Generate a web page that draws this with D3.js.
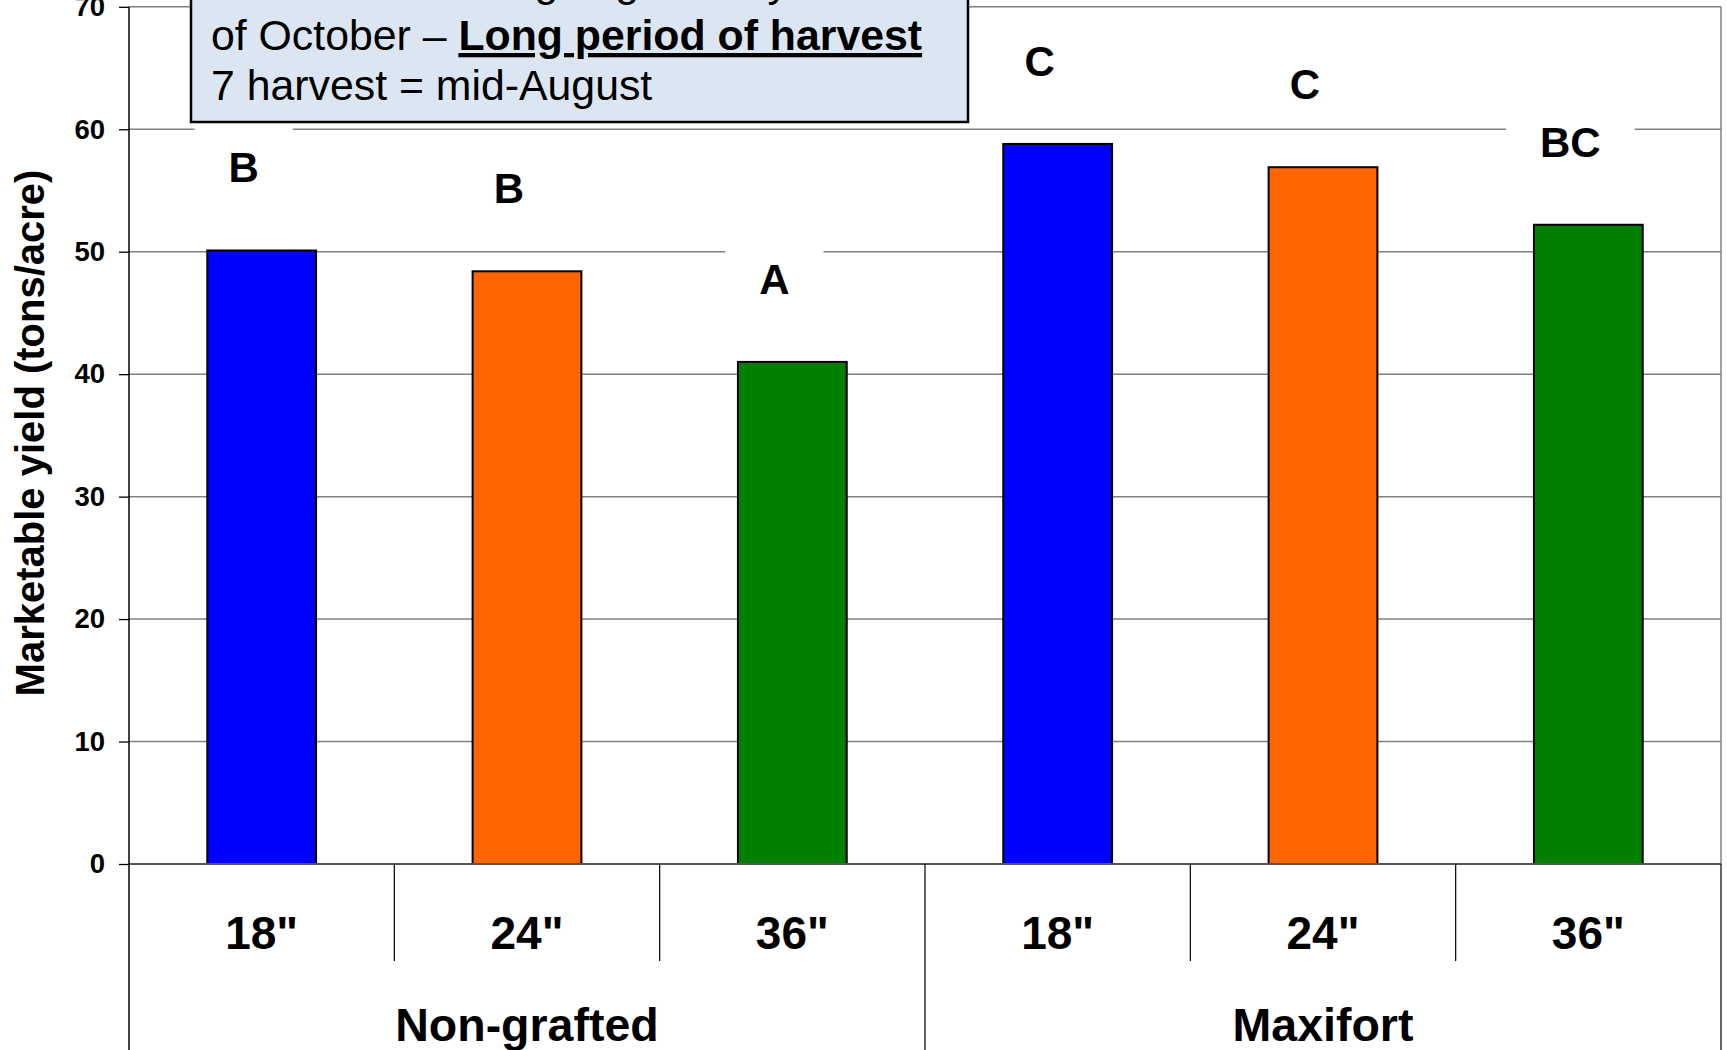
<!DOCTYPE html>
<html>
<head>
<meta charset="utf-8">
<script src="https://cdn.jsdelivr.net/npm/d3@7"></script>
<style>
  body { margin: 0; background: #fff; }
  text { font-family: "Liberation Sans", Arial, sans-serif; }
</style>
</head>
<body>
<div id="chart-area"></div>
<script>
// data
var groups = ["Non-grafted", "Maxifort"];
var spacings = ['18"', '24"', '36"'];
var yieldNonGrafted = [50.1, 48.4, 41.0];
var yieldMaxifort = [58.8, 56.9, 52.2];
var lettersNonGrafted = ["B", "B", "A"];
var lettersMaxifort = ["C", "C", "BC"];
var barColors = ["#0000ff", "#ff6600", "#008000"];
var yTicks = [0, 10, 20, 30, 40, 50, 60, 70];
var yTitle = "Marketable yield (tons/acre)";
var noteLine1 = "Harvest is still ongoing in early";
var noteLine2a = "of October \u2013 ";
var noteLine2b = "Long period of harvest";
var noteLine3 = "7 harvest = mid-August";

var width = 1727, height = 1050;
// plot area edges
var plotLeft = 129, plotRight = 1721, plotTop = 6.8, plotZero = 864;

// build a flat table of the six bars
var bars = [];
groups.forEach(function(gName, gi){
    var vals = gi == 0 ? yieldNonGrafted : yieldMaxifort;
    var lets = gi == 0 ? lettersNonGrafted : lettersMaxifort;
    spacings.forEach(function(s, si){
        bars.push({ key: gName + s, group: gName, spacing: s, value: vals[si], letter: lets[si], color: barColors[si] });
    });
});

var svg = d3.select("#chart-area")
    .append("svg")
    .attr("width", width)
    .attr("height", height);

// Scales
var y = d3.scaleLinear().domain([0, 70]).range([plotZero, plotTop]);
var x = d3.scaleBand().domain(bars.map(function(d){ return d.key; })).range([plotLeft, plotRight]).padding(0);
var xg = d3.scaleBand().domain(groups).range([plotLeft, plotRight]).padding(0);
var barW = x.bandwidth() * 0.41;

// gridlines
svg.append("g").selectAll("line")
    .data(yTicks.filter(function(t){ return t > 0; }))
    .enter().append("line")
    .attr("x1", plotLeft).attr("x2", plotRight)
    .attr("y1", function(d){ return y(d); })
    .attr("y2", function(d){ return y(d); })
    .attr("stroke", "#808080")
    .attr("stroke-width", 1.5);

// right border of plot
svg.append("line")
    .attr("x1", plotRight).attr("x2", plotRight)
    .attr("y1", y(70)).attr("y2", plotZero)
    .attr("stroke", "#808080").attr("stroke-width", 1.5);

// Y-axis
var yAxisCall = d3.axisLeft(y)
    .tickValues(yTicks)
    .tickSize(10)
    .tickPadding(14)
    .tickFormat(d3.format("d"));
var yAxis = svg.append("g")
    .attr("class", "y axis")
    .attr("transform", "translate(" + plotLeft + ",0)")
    .call(yAxisCall);
yAxis.select(".domain").remove();
yAxis.selectAll("line").attr("stroke", "#000").attr("stroke-width", 1.3);
yAxis.selectAll("text")
    .attr("font-size", "27.5px")
    .attr("font-weight", "bold")
    .attr("fill", "#000")
    .style("font-family", '"Liberation Sans", Arial, sans-serif');

// letter labels with white boxes
var labG = svg.append("g");
bars.forEach(function(d){
    var cx = x(d.key) + x.bandwidth() / 2 - 18;
    var cy = y(d.value + 6.8);
    var t = labG.append("text")
        .attr("x", cx).attr("y", cy)
        .attr("text-anchor", "middle")
        .attr("dy", "0.36em")
        .attr("font-size", "42px")
        .attr("font-weight", "bold")
        .text(d.letter);
    var w = t.node().getComputedTextLength() + 68;
    labG.insert("rect", "text")
        .attr("x", cx - w / 2).attr("y", cy - 40)
        .attr("width", w).attr("height", 80)
        .attr("fill", "#fff");
});

// bars
svg.append("g").selectAll("rect")
    .data(bars)
    .enter().append("rect")
    .attr("x", function(d){ return x(d.key) + (x.bandwidth() - barW) / 2; })
    .attr("y", function(d){ return y(d.value); })
    .attr("width", barW)
    .attr("height", function(d){ return plotZero - y(d.value); })
    .attr("fill", function(d){ return d.color; })
    .attr("stroke", "#000")
    .attr("stroke-width", 2);

// zero line and y axis line
svg.append("line")
    .attr("x1", plotLeft).attr("x2", plotRight)
    .attr("y1", plotZero).attr("y2", plotZero)
    .attr("stroke", "#555").attr("stroke-width", 2);
svg.append("line")
    .attr("x1", plotLeft).attr("x2", plotLeft)
    .attr("y1", y(70)).attr("y2", height)
    .attr("stroke", "#000").attr("stroke-width", 1.5);

// category dividers (short) and group dividers (long)
svg.append("g").selectAll("line")
    .data(bars.slice(1))
    .enter().append("line")
    .attr("x1", function(d){ return x(d.key); })
    .attr("x2", function(d){ return x(d.key); })
    .attr("y1", plotZero)
    .attr("y2", function(d){ return d.spacing == spacings[0] ? height : 961; })
    .attr("stroke", "#000").attr("stroke-width", 1.2);
svg.append("line")
    .attr("x1", plotRight).attr("x2", plotRight)
    .attr("y1", plotZero).attr("y2", height)
    .attr("stroke", "#000").attr("stroke-width", 1.2);

// category labels
svg.append("g").selectAll("text")
    .data(bars)
    .enter().append("text")
    .attr("x", function(d){ return x(d.key) + x.bandwidth() / 2; })
    .attr("y", 949)
    .attr("text-anchor", "middle")
    .attr("font-size", "46px")
    .attr("font-weight", "bold")
    .text(function(d){ return d.spacing; });

// group labels
svg.append("g").selectAll("text")
    .data(groups)
    .enter().append("text")
    .attr("x", function(d){ return xg(d) + xg.bandwidth() / 2; })
    .attr("y", 1041)
    .attr("text-anchor", "middle")
    .attr("font-size", "46.5px")
    .attr("font-weight", "bold")
    .text(function(d){ return d; });

// y title
svg.append("text")
    .attr("transform", "translate(30," + 433 + ") rotate(-90)")
    .attr("text-anchor", "middle")
    .attr("dy", "0.36em")
    .attr("font-size", "40px")
    .attr("font-weight", "bold")
    .text(yTitle);

// note box
svg.append("rect")
    .attr("x", 191).attr("y", -20)
    .attr("width", 777).attr("height", 142)
    .attr("fill", "#dce6f2")
    .attr("stroke", "#000")
    .attr("stroke-width", 2.5);
var note = svg.append("text")
    .attr("x", 211)
    .attr("font-size", "42.8px")
    .attr("fill", "#000");
note.append("tspan").attr("x", 211).attr("y", -4).text(noteLine1);
note.append("tspan").attr("x", 211).attr("y", 50).text(noteLine2a);
note.append("tspan")
    .attr("font-weight", "bold")
    .style("text-decoration", "underline")
    .text(noteLine2b);
note.append("tspan").attr("x", 211).attr("y", 99.5).text(noteLine3);
</script>
</body>
</html>
